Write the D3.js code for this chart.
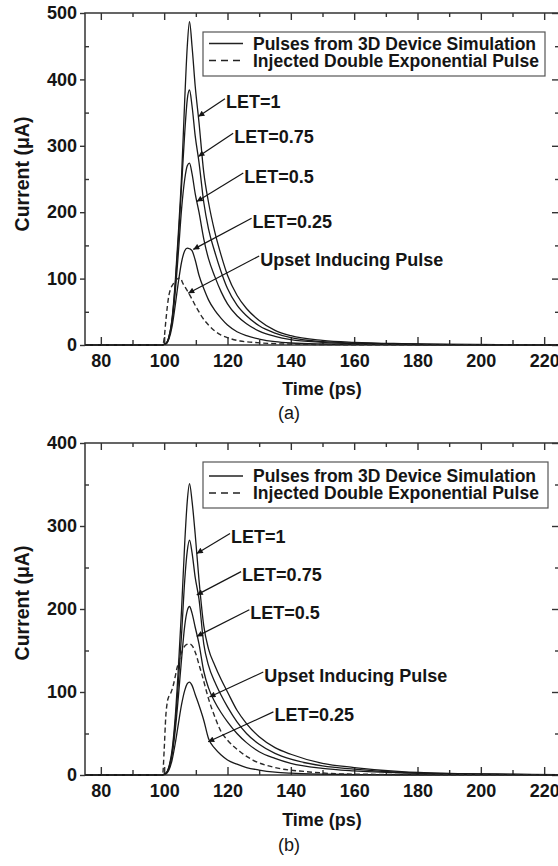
<!DOCTYPE html>
<html><head><meta charset="utf-8">
<script src="https://cdn.jsdelivr.net/npm/d3@7"></script>
<style>
body{margin:0;background:#fff}
text{font-family:"Liberation Sans",Arial,sans-serif;fill:#151515}
</style></head>
<body><svg id="c" width="558" height="866"></svg>
<script>
// ---------- data ----------
const xTicks = [80, 100, 120, 140, 160, 180, 200, 220];
const xMinor = [90, 110, 130, 150, 170, 190, 210];
const yTicksA = [0, 100, 200, 300, 400, 500];
const yMinorA = [50, 150, 250, 350, 450];
const yTicksB = [0, 100, 200, 300, 400];
const yMinorB = [50, 150, 250, 350];

const legendLabels = ["Pulses from 3D Device Simulation", "Injected Double Exponential Pulse"];

// time samples (ps) for simulated pulses
const tSim = [75, 99, 100.5, 101.5, 102.5, 103.5, 104.5, 105.5, 106.5, 107.3, 108, 108.8, 109.8, 111, 112.5, 114, 116, 118, 120, 123, 126, 130, 135, 140, 150, 160, 175, 190, 210, 225];
// time samples (ps) for injected pulses
const tInj = [75, 99.5, 100, 100.5, 101, 101.5, 102, 103, 104, 105, 106, 107, 108, 109, 110, 111, 112, 114, 116, 118, 120, 124, 128, 135, 145, 160, 225];

// panel (a) currents (uA)
const a_LET1   = [0,0,2,12,40,95,170,255,370,450,487,450,390,335,260,215,170,135,105,75,55,37,22,14,7,4,2,1,0.5,0.3];
const a_LET075 = [0,0,2,12,38,90,160,240,320,370,384,360,315,275,215,175,140,110,85,60,44,29,18,11,5,3,1.5,0.8,0.4,0.2];
const a_LET05  = [0,0,2,11,35,80,140,205,250,270,274,258,228,200,160,130,103,80,62,44,32,21,13,8,4,2,1,0.5,0.3,0.2];
const a_LET025 = [0,0,1.5,9,28,60,95,125,142,146,145,142,128,105,85,68,52,40,30,20,14,9,5,3,1.5,1,0.5,0.3,0.2,0.1];
const a_inj    = [0,0,10,35,58,75,84,93,99,101,92,84,76,67,58,50,42,30,21,15,11,6,4,2,1,0.4,0];

// panel (b) currents (uA)
const b_LET1   = [0,0,2,10,30,70,130,200,280,330,351,330,290,235,180,152,132,115,100,78,62,46,33,25,14,9,4,2,1,0.5];
const b_LET075 = [0,0,2,9,27,62,112,170,235,270,283,268,238,212,158,132,112,96,82,64,50,37,26,19,11,7,3,1.5,0.7,0.3];
const b_LET05  = [0,0,1.5,8,24,54,95,140,180,198,203,195,178,158,125,105,88,75,64,50,39,28,20,14,8,5,2.5,1.2,0.5,0.3];
const b_LET025 = [0,0,1,6,18,38,62,85,102,110,112,108,97,84,66,44,32,24,18,13,9,6,3.5,2.2,1,0.5,0.3,0.2,0.1,0];
const b_inj    = [0,0,30,70,88,95,98,110,128,142,152,157,158,155,146,133,120,92,70,52,42,28,18,9,4,1,0];

// annotations: label, tip (t, I), text anchor (t, I)
const annLabelsA = ["LET=1", "LET=0.75", "LET=0.5", "LET=0.25", "Upset Inducing Pulse"];
const annTipA    = [[110.8,344],[110.8,284],[110.3,216],[109.2,144],[107.6,78]];
const annTextA   = [[119.2,371],[121.8,319],[125.0,259],[127.6,191],[130.0,134]];
const annLabelsB = ["LET=1", "LET=0.75", "LET=0.5", "Upset Inducing Pulse", "LET=0.25"];
const annTipB    = [[110.3,267],[110.3,217],[110.3,167],[114.3,94],[113.9,40]];
const annTextB   = [[120.8,291],[124.3,245],[126.9,199],[131.3,124],[134.5,76]];

// ---------- drawing ----------
const svg = d3.select("#c");
svg.append("rect").attr("width",558).attr("height",866).attr("fill","#fff");
const defs = svg.append("defs");
defs.append("marker").attr("id","ah").attr("viewBox","0 0 10 10")
  .attr("refX",10).attr("refY",5).attr("markerWidth",7).attr("markerHeight",6)
  .attr("orient","auto").attr("markerUnits","userSpaceOnUse")
  .append("path").attr("d","M0,0L10,5L0,10z").attr("fill","#151515");

const FS = 18;
const LFS = 17.5;
const x = d3.scaleLinear().domain([75,225]).range([85,560]);

function panel(cfg){
  const y = d3.scaleLinear().domain([0,cfg.ymax]).range([cfg.y0, cfg.ytop]);
  const g = svg.append("g");
  const ax = "#333";
  // frame
  g.append("rect").attr("x",x(75)).attr("y",y(cfg.ymax))
    .attr("width",x(225)-x(75)).attr("height",y(0)-y(cfg.ymax))
    .attr("fill","none").attr("stroke",ax).attr("stroke-width",1.5);

  // bottom axis (inward ticks)
  const bAx = g.append("g").attr("transform",`translate(0,${y(0)})`)
    .call(d3.axisBottom(x).tickValues(xTicks).tickSizeInner(-8).tickSizeOuter(0).tickPadding(9));
  const bMin = g.append("g").attr("transform",`translate(0,${y(0)})`)
    .call(d3.axisBottom(x).tickValues(xMinor).tickSizeInner(-5).tickSizeOuter(0).tickFormat(""));
  // top axis (inward)
  const tAx = g.append("g").attr("transform",`translate(0,${y(cfg.ymax)})`)
    .call(d3.axisBottom(x).tickValues(xTicks).tickSizeInner(7).tickSizeOuter(0).tickFormat(""));
  const tMin = g.append("g").attr("transform",`translate(0,${y(cfg.ymax)})`)
    .call(d3.axisBottom(x).tickValues(xMinor).tickSizeInner(4).tickSizeOuter(0).tickFormat(""));
  // left axis (outward majors, inward minors)
  const lAx = g.append("g").attr("transform",`translate(${x(75)},0)`)
    .call(d3.axisLeft(y).tickValues(cfg.yTicks).tickSizeInner(5).tickSizeOuter(0).tickPadding(3));
  const lMin = g.append("g").attr("transform",`translate(${x(75)},0)`)
    .call(d3.axisLeft(y).tickValues(cfg.yMinor).tickSizeInner(-4).tickSizeOuter(0).tickFormat(""));
  // right axis (inward)
  const rAx = g.append("g").attr("transform",`translate(${x(225)},0)`)
    .call(d3.axisLeft(y).tickValues(cfg.yTicks).tickSizeInner(8).tickSizeOuter(0).tickFormat(""));
  const rMin = g.append("g").attr("transform",`translate(${x(225)},0)`)
    .call(d3.axisLeft(y).tickValues(cfg.yMinor).tickSizeInner(5).tickSizeOuter(0).tickFormat(""));
  [bAx,bMin,tAx,tMin,lAx,lMin,rAx,rMin].forEach(a=>{
    a.select(".domain").remove();
    a.selectAll("line").attr("stroke",ax).attr("stroke-width",1.4);
    a.selectAll("text").attr("font-size",FS).attr("font-weight","bold").attr("fill","#151515")
      .attr("font-family",'"Liberation Sans",Arial,sans-serif');
  });

  // curves
  const line = d3.line().x(d=>x(d[0])).y(d=>y(d[1])).curve(d3.curveMonotoneX);
  cfg.sims.forEach(s=>{
    g.append("path").datum(tSim.map((t,i)=>[t,s[i]])).attr("d",line)
      .attr("fill","none").attr("stroke","#1a1a1a").attr("stroke-width",1.3);
  });
  g.append("path").datum(tInj.map((t,i)=>[t,cfg.inj[i]])).attr("d",line)
    .attr("fill","none").attr("stroke","#2a2a2a").attr("stroke-width",1.4)
    .attr("stroke-dasharray","5,3");

  // legend
  const lg = g.append("g");
  lg.append("rect").attr("x",203).attr("y",cfg.legY).attr("width",cfg.legW).attr("height",cfg.legH)
    .attr("fill","#fff").attr("stroke","#555").attr("stroke-width",1.2);
  legendLabels.forEach((lab,i)=>{
    const cy = cfg.legY + cfg.legRows[i];
    lg.append("line").attr("x1",209).attr("x2",243).attr("y1",cy).attr("y2",cy)
      .attr("stroke","#222").attr("stroke-width",1.3)
      .attr("stroke-dasharray", i===1 ? "7,5" : null);
    lg.append("text").attr("x",253).attr("y",cy).attr("dy","0.36em")
      .attr("font-size",LFS).attr("font-weight","bold").text(lab);
  });

  // annotations
  cfg.annLabels.forEach((lab,i)=>{
    const [tt,tv] = cfg.annTip[i], [sx,sv] = cfg.annText[i];
    g.append("line").attr("x1",x(sx)).attr("y1",y(sv)).attr("x2",x(tt)).attr("y2",y(tv))
      .attr("stroke","#151515").attr("stroke-width",1.2).attr("marker-end","url(#ah)");
    g.append("text").attr("x",x(sx)+1).attr("y",y(sv)+3).attr("dy","0.36em")
      .attr("font-size",FS).attr("font-weight","bold").text(lab);
  });

  // axis titles
  g.append("text").attr("x",322).attr("y",cfg.xTitleY).attr("dy","0.36em")
    .attr("text-anchor","middle").attr("font-size",FS).attr("font-weight","bold").text("Time (ps)");
  g.append("text").attr("transform",`translate(22,${cfg.yTitleY}) rotate(-90)`).attr("dy","0.36em")
    .attr("text-anchor","middle").attr("font-size",19.5).attr("font-weight","bold").text("Current (\u03bcA)");
  g.append("text").attr("x",289).attr("y",cfg.capY).attr("dy","0.36em")
    .attr("text-anchor","middle").attr("font-size",18)
    .attr("font-family",'"Liberation Serif","Times New Roman",serif').text(cfg.cap);
}

panel({ymax:500, y0:345, ytop:13, yTicks:yTicksA, yMinor:yMinorA,
  sims:[a_LET1,a_LET075,a_LET05,a_LET025], inj:a_inj,
  legY:32, legW:342, legH:44, legRows:[11.5,28.5],
  annLabels:annLabelsA, annTip:annTipA, annText:annTextA,
  xTitleY:389, yTitleY:174, capY:413, cap:"(a)"});
panel({ymax:400, y0:775, ytop:443, yTicks:yTicksB, yMinor:yMinorB,
  sims:[b_LET1,b_LET075,b_LET05,b_LET025], inj:b_inj,
  legY:462, legW:345, legH:46, legRows:[14,31],
  annLabels:annLabelsB, annTip:annTipB, annText:annTextB,
  xTitleY:820, yTitleY:603, capY:845, cap:"(b)"});
</script></body></html>
